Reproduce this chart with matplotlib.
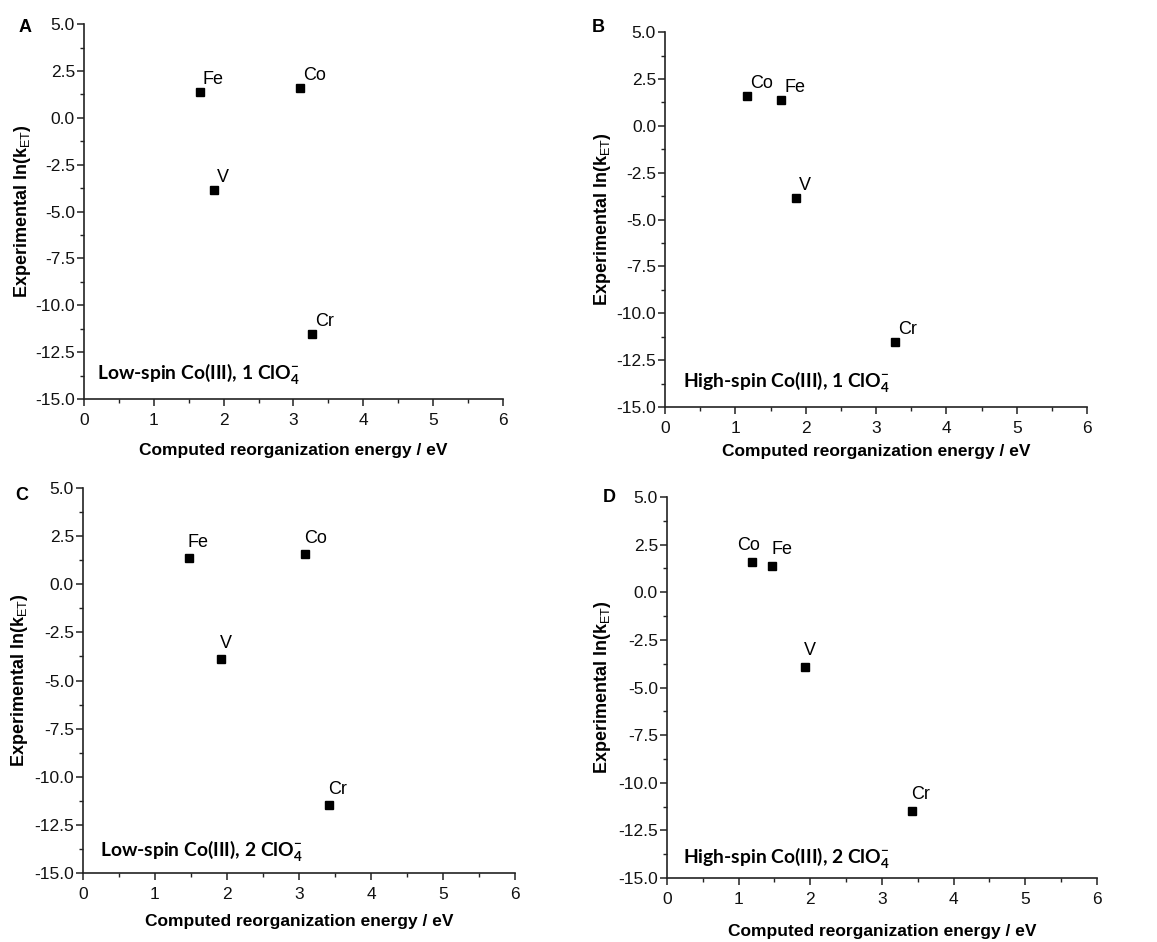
import matplotlib
matplotlib.use("Agg")
import matplotlib.pyplot as plt
from matplotlib.ticker import MultipleLocator, FormatStrFormatter

plt.rcParams['font.family'] = ['Liberation Sans', 'DejaVu Sans']
plt.rcParams['mathtext.fontset'] = 'custom'
plt.rcParams['mathtext.rm'] = 'Liberation Sans'
plt.rcParams['mathtext.bf'] = 'Lato:bold'

# data
metals_A = ['Fe', 'Co', 'V', 'Cr']
x_A = [1.66, 3.09, 1.86, 3.27]
y_A = [1.37, 1.58, -3.86, -11.55]

metals_B = ['Co', 'Fe', 'V', 'Cr']
x_B = [1.17, 1.65, 1.86, 3.27]
y_B = [1.60, 1.38, -3.86, -11.55]

metals_C = ['Fe', 'Co', 'V', 'Cr']
x_C = [1.47, 3.09, 1.92, 3.42]
y_C = [1.38, 1.58, -3.90, -11.48]

metals_D = ['Co', 'Fe', 'V', 'Cr']
x_D = [1.18, 1.47, 1.92, 3.42]
y_D = [1.60, 1.38, -3.90, -11.48]

captions = ['Low-spin Co(III), 1 ClO',
            'High-spin Co(III), 1 ClO',
            'Low-spin Co(III), 2 ClO',
            'High-spin Co(III), 2 ClO']
letters = ['A', 'B', 'C', 'D']

panels = [
    # rect, letter pos (px), ylabel x, xlabel y, caption pos, label offset (px)
    dict(rect=[0.0726, 0.5764, 0.362, 0.398], let=(25, 27), yl=-0.122, xl=-0.118,
         cap=(0.031, 0.051), off=(3, 8), names=metals_A, x=x_A, y=y_A),
    dict(rect=[0.5748, 0.5679, 0.3647, 0.398], let=(598, 28), yl=-0.123, xl=-0.098,
         cap=(0.043, 0.053), off=(3, 8), names=metals_B, x=x_B, y=y_B),
    dict(rect=[0.0717, 0.0732, 0.3734, 0.4087], let=(22, 496), yl=-0.122, xl=-0.106,
         cap=(0.039, 0.042), off=(-1, 11), names=metals_C, x=x_C, y=y_C),
    dict(rect=[0.5765, 0.0679, 0.3716, 0.4045], let=(609, 498), yl=-0.126, xl=-0.120,
         cap=(0.037, 0.039), off=(-1, 12), names=metals_D, x=x_D, y=y_D),
]

W, H = 1157, 942
fig = plt.figure(figsize=(W / 100, H / 100), dpi=100)

for i, p in enumerate(panels):
    ax = fig.add_axes(p['rect'])
    ax.plot(p['x'], p['y'], 's', color='black', markersize=5.5, linestyle='none')
    ox, oy = p['off']
    for name, xv, yv in zip(p['names'], p['x'], p['y']):
        ha = 'left'
        dx = ox * 0.72
        if i == 3 and name == 'Co':
            ha = 'center'
            dx = -3 * 0.72
        ax.annotate(name, (xv, yv), xytext=(dx, oy * 0.72), textcoords='offset points',
                    ha=ha, va='baseline', fontsize=13)

    ax.set_xlim(0, 6)
    ax.set_ylim(-15, 5)
    ax.xaxis.set_major_locator(MultipleLocator(1))
    ax.xaxis.set_minor_locator(MultipleLocator(0.5))
    ax.yaxis.set_major_locator(MultipleLocator(2.5))
    ax.yaxis.set_minor_locator(MultipleLocator(1.25))
    ax.yaxis.set_major_formatter(FormatStrFormatter('%.1f'))
    ax.spines['top'].set_visible(False)
    ax.spines['right'].set_visible(False)
    for s in ['left', 'bottom']:
        ax.spines[s].set_linewidth(1.2)
        ax.spines[s].set_color('#222222')
    ax.tick_params(which='major', direction='out', length=5, width=1.1, labelsize=12.5,
                   color='#222222', labelcolor='#111111')
    ax.tick_params(axis='x', which='major', pad=5)
    ax.tick_params(axis='y', which='major', pad=1.5)
    ax.tick_params(which='minor', direction='out', length=3, width=1.0, color='#222222')

    ax.set_xlabel('Computed reorganization energy / eV', fontsize=12.5, fontweight='bold')
    ax.set_ylabel(r'Experimental ln(k$_\mathrm{ET}$)', fontsize=13, fontweight='bold')
    ax.xaxis.set_label_coords(0.5, p['xl'])
    ax.yaxis.set_label_coords(p['yl'], 0.5)

    ax.text(p['cap'][0], p['cap'][1], captions[i] + r'$_\mathbf{4}^\mathbf{-}$',
            transform=ax.transAxes, ha='left', va='baseline', fontsize=13.9,
            family='Lato', fontweight='bold')

    lx, ly = p['let']
    fig.text(lx / W, 1 - ly / H, letters[i], ha='center', va='center', fontsize=13,
             fontweight='bold')

fig.savefig('out.png', dpi=100)
